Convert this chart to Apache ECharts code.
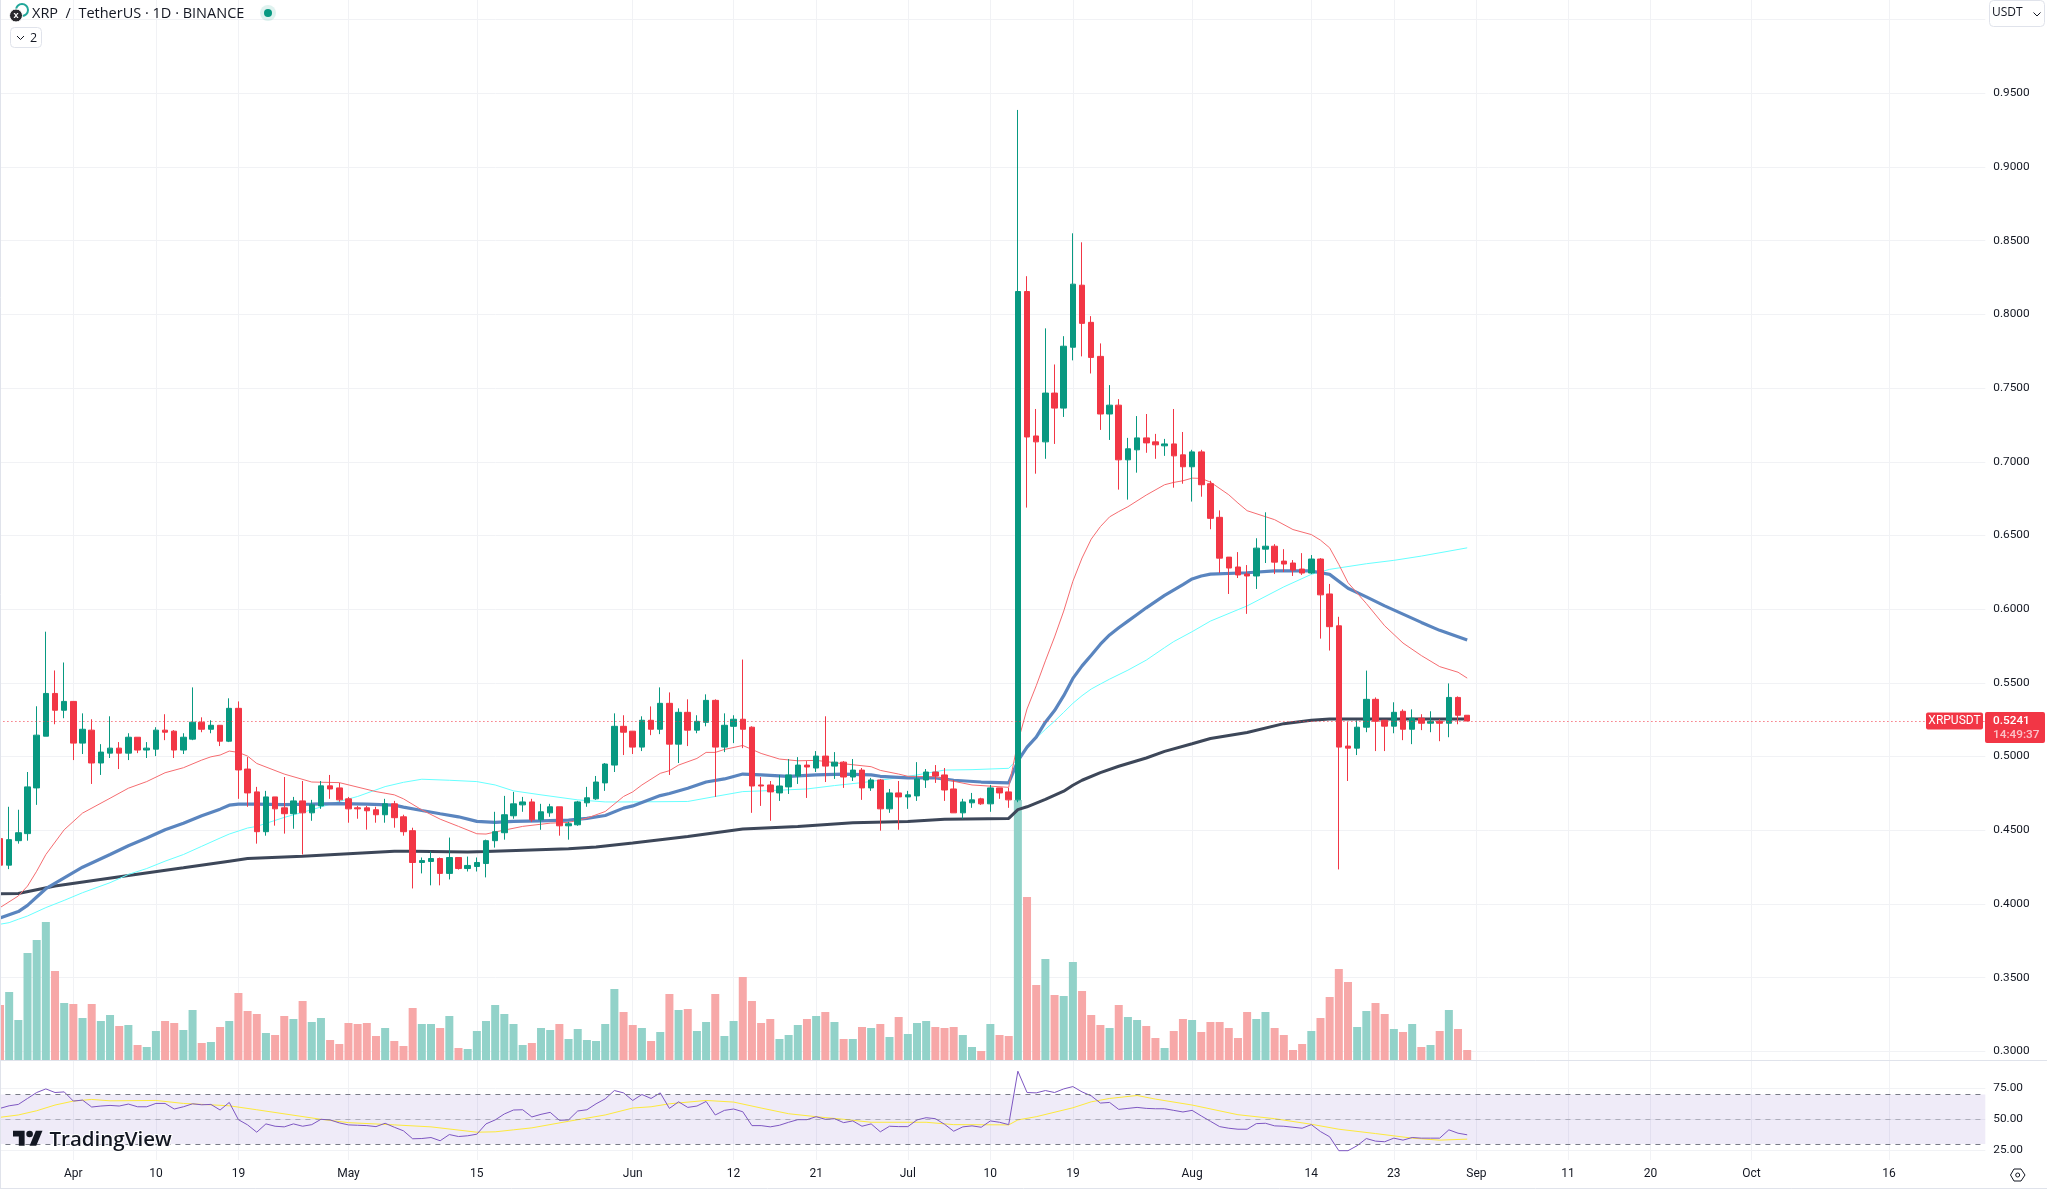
<!DOCTYPE html>
<html><head><meta charset="utf-8">
<style>html,body{margin:0;padding:0;background:#fff}#c{width:2047px;height:1189px}</style>
<script src="https://cdn.jsdelivr.net/npm/echarts@6/dist/echarts.min.js"></script>
</head><body><div id="c"></div>
<script>
const startDate = "2023-03-24";
const dayCount = 217;
const tickDates = ["04-01","04-10","04-19","05-01","05-15","06-01","06-12","06-21","07-01","07-10","07-19","08-01","08-14","08-23","09-01","09-11","09-20","10-01","10-16"];
const tickLabels = ["Apr","10","19","May","15","Jun","12","21","Jul","10","19","Aug","14","23","Sep","11","20","Oct","16"];
const opens = [.4443,.4263,.4429,.4477,.4787,.5138,.5428,.5314,
.5374,.5091,.5179,.4956,.5023,.5057,.5023,.5131,.5044,.5050,.5179,.5172,.5044,.5118,.5233,.5185,.5212,.5104,.5327,.4915,.4760,.4490,.4726,.4652,.4612,.4699,.4618,.4665,.4801,.4787,
.4713,.4652,.4652,.4639,.4605,.4679,.4591,.4497,.4281,.4288,.4308,.4207,.4315,.4240,.4254,.4274,.4429,.4483,.4598,.4672,.4692,.4571,.4618,.4659,.4530,.4537,.4686,.4713,.4821,.4942,.5205,
.5172,.5064,.5246,.5185,.5361,.5084,.5300,.5179,.5232,.5381,.5064,.5205,.5253,.5199,.4807,.4807,.4753,.4794,.4868,.4942,.4922,.5003,.4935,.4962,.4861,.4908,.4787,.4841,.4645,.4753,
.4726,.4733,.4841,.4895,.4875,.4780,.4618,.4686,.4713,.4679,.4787,.4760,.4706,.8155,.7175,.7135,.7466,.7364,.7777,.8198,.7946,.7715,.7324,.7384,.7013,.7081,.7162,.7135,.7108,.7121,.7047,
.6966,.7067,.6851,.6623,.6353,.6286,.6238,.6225,.6407,.6427,.6326,.6313,.6272,.6245,.6340,.6103,.5887,.5071,.5057,.5199,.5388,.5246,.5206,.5307,.5185,.5260,.5226,.5239,.5226,.5401,.5280];
const closes = [.4263,.4436,.4483,.4794,.5145,.5428,.5314,.5374,
.5091,.5185,.4956,.5030,.5057,.5023,.5131,.5044,.5057,.5179,.5165,.5044,.5131,.5233,.5185,.5212,.5104,.5327,.4909,.4753,.4490,.4726,.4645,.4612,.4699,.4618,.4672,.4801,.4780,.4706,
.4645,.4645,.4632,.4605,.4679,.4585,.4490,.4281,.4294,.4308,.4207,.4315,.4240,.4261,.4281,.4429,.4490,.4605,.4679,.4692,.4571,.4625,.4659,.4530,.4544,.4692,.4720,.4827,.4949,.5205,.5165,
.5064,.5246,.5185,.5361,.5084,.5300,.5179,.5239,.5381,.5064,.5212,.5253,.5185,.4800,.4800,.4760,.4800,.4875,.4942,.4929,.5003,.4935,.4962,.4861,.4908,.4787,.4841,.4645,.4753,.4726,
.4740,.4848,.4895,.4868,.4773,.4618,.4692,.4706,.4679,.4787,.4753,.4706,.8155,.7168,.7135,.7466,.7364,.7784,.8205,.7939,.7708,.7324,.7384,.7013,.7088,.7162,.7128,.7115,.7121,.7040,.6966,
.7067,.6844,.6616,.6346,.6279,.6232,.6225,.6414,.6427,.6319,.6306,.6265,.6245,.6340,.6097,.5881,.5064,.5057,.5199,.5388,.5239,.5206,.5300,.5185,.5260,.5226,.5239,.5226,.5401,.5280,.5241];
const lows = [.4256,.4236,.4409,.4429,.4672,.5138,.5219,.5260,
.4976,.5017,.4814,.4875,.4990,.4915,.4976,.5023,.4990,.5003,.5111,.4990,.5017,.5111,.5165,.5158,.5071,.5098,.4713,.4659,.4409,.4463,.4531,.4477,.4510,.4335,.4564,.4645,.4713,.4693,
.4551,.4578,.4504,.4551,.4551,.4517,.4463,.4105,.4207,.4126,.4126,.4166,.4233,.4220,.4220,.4180,.4382,.4436,.4578,.4625,.4557,.4503,.4591,.4463,.4436,.4530,.4659,.4706,.4767,.4895,.5010,
.5017,.5037,.5145,.5152,.4875,.4956,.5071,.5158,.5205,.4726,.5030,.5091,.5057,.4618,.4665,.4564,.4699,.4746,.4814,.4719,.4895,.4827,.4848,.4787,.4834,.4706,.4767,.4497,.4618,.4503,
.4645,.4699,.4787,.4821,.4699,.4618,.4578,.4652,.4672,.4625,.4713,.4652,.4690,.6689,.6919,.7020,.7121,.7304,.7688,.7715,.7599,.7216,.7148,.6811,.6743,.6926,.7061,.7020,.7040,.6824,.6851,
.6730,.6763,.6542,.6245,.6103,.6211,.5968,.6137,.6313,.6238,.6252,.6225,.6232,.6238,.5800,.5719,.4234,.4834,.5010,.5165,.5037,.5037,.5158,.5111,.5084,.5179,.5165,.5104,.5131,.5219,.5241];
const highs = [.4460,.4659,.4639,.4895,.5341,.5847,.5584,.5638,
.5374,.5293,.5253,.5084,.5273,.5098,.5158,.5131,.5098,.5199,.5287,.5179,.5158,.5469,.5266,.5246,.5212,.5395,.5374,.4996,.4794,.4767,.4726,.4861,.4726,.4834,.4706,.4834,.4875,.4821,
.4726,.4665,.4665,.4659,.4713,.4699,.4605,.4517,.4315,.4355,.4315,.4450,.4315,.4321,.4315,.4436,.4625,.4733,.4760,.4726,.4713,.4679,.4679,.4659,.4557,.4699,.4794,.4868,.4956,.5293,.5280,
.5172,.5273,.5340,.5469,.5435,.5327,.5388,.5280,.5422,.5388,.5293,.5280,.5658,.5205,.4861,.4834,.4875,.4983,.4996,.4969,.5037,.5273,.5030,.4969,.4983,.4922,.4855,.4848,.4780,.4834,
.4767,.4962,.4915,.4942,.4922,.4841,.4713,.4753,.4720,.4807,.4787,.4787,.9387,.8259,.7358,.7905,.7660,.7852,.8550,.8489,.7988,.7803,.7520,.7425,.7162,.7310,.7324,.7189,.7155,.7358,.7202,
.7081,.7081,.6871,.6670,.6353,.6387,.6299,.6481,.6657,.6441,.6407,.6333,.6380,.6367,.6346,.6171,.5948,.5233,.5246,.5583,.5401,.5246,.5368,.5320,.5320,.5287,.5307,.5253,.5496,.5408,.5280];
const volumes = [165,204,120,321,360,414,267,171,
168,126,168,117,135,102,105,45,39,87,117,111,90,150,51,54,99,117,201,147,138,81,75,132,123,177,114,126,60,48,
111,108,111,72,96,57,42,156,108,108,96,132,36,33,87,117,165,138,108,45,51,96,90,108,63,93,60,57,108,213,144,
105,96,57,84,198,150,153,87,114,198,72,117,249,177,111,123,63,75,105,123,132,144,114,63,63,99,96,108,69,129,
78,111,117,99,96,99,75,39,27,108,75,72,780,489,225,303,195,192,294,207,135,105,96,165,129,120,102,66,36,87,123,
120,84,114,114,96,66,144,123,144,96,75,30,48,87,126,189,273,234,99,147,171,138,93,84,108,39,45,87,150,93,30];
const rsi = [58.8,60.9,62.0,66.8,71.6,74.5,71.6,72.1,
64.7,65.5,59.9,60.7,61.2,60.7,62.3,60.1,60.1,62.8,62.8,58.3,60.1,62.5,61.7,62.0,57.5,63.6,49.7,45.5,39.6,46.3,44.4,43.9,46.3,44.4,45.7,50.0,49.5,47.1,
45.5,45.2,44.9,44.1,46.8,43.6,40.7,34.3,34.5,35.3,32.7,37.7,36.1,36.7,38.0,46.3,49.5,54.3,57.5,57.7,51.9,54.0,55.6,49.2,49.5,56.7,57.7,62.5,66.5,73.2,71.3,
65.2,70.0,66.8,71.3,58.8,64.1,59.6,60.7,64.4,53.5,57.2,58.3,56.1,44.9,44.9,43.9,45.2,47.6,49.7,49.7,52.1,50.0,50.5,47.3,48.7,44.4,46.3,39.9,44.4,44.1,
44.1,49.5,51.3,50.5,46.0,40.4,43.9,44.7,43.6,48.7,47.6,45.7,88.8,71.6,71.3,73.2,71.6,74.5,76.4,72.1,68.9,63.1,63.6,58.0,58.8,59.6,58.8,58.5,58.5,57.2,55.9,
57.2,52.7,48.4,44.1,42.8,42.0,42.0,46.5,46.8,44.7,44.4,43.6,42.8,45.7,40.1,35.9,24.7,24.7,28.7,34.5,32.4,31.9,34.8,33.2,35.3,34.8,34.8,34.8,41.5,38.8,37.5];
const rsiSignal = [["03-24",51.6],["03-26",53.5],["03-28",56.9],["03-30",61.5],["04-01",64.7],["04-03",66.0],["04-05",64.9],["04-10",65.2],["04-13",62.8],["04-18",60.9],["04-21",57.7],["04-28",50.0],["05-01",47.3],["05-06",45.5],["05-10",43.9],["05-15",39.6],["05-17",39.9],["05-19",41.5],["05-21",43.1],["05-25",48.4],["05-29",53.5],["06-01",59.1],["06-03",60.1],["06-05",62.5],["06-09",65.2],["06-12",63.9],["06-15",59.1],["06-18",54.5],["06-21",52.1],["06-24",50.0],["06-27",47.6],["07-03",47.6],["07-06",45.7],["07-12",45.5],["07-13",49.5],["07-15",52.1],["07-19",59.3],["07-21",64.1],["07-23",66.8],["07-26",69.2],["07-28",66.3],["08-01",61.5],["08-06",53.7],["08-10",50.5],["08-14",46.0],["08-17",42.0],["08-21",38.5],["08-25",34.8],["08-28",33.2],["08-31",34.0]];
const maRed = [["03-24",.3975],["03-26",.4054],["03-27",.4121],["03-28",.4222],["03-29",.4335],["03-31",.4503],["04-02",.4616],["04-05",.4717],["04-07",.4785],["04-09",.4830],["04-11",.4890],["04-13",.4924],["04-15",.4976],["04-16",.4998],["04-17",.5010],["04-18",.5037],["04-19",.5028],["04-20",.5003],["04-21",.4953],["04-24",.4881],["04-27",.4827],["04-30",.4823],["05-04",.4762],["05-06",.4740],["05-07",.4713],["05-09",.4638],["05-11",.4575],["05-13",.4526],["05-15",.4476],["05-16",.4474],["05-17",.4488],["05-20",.4526],["05-23",.4548],["05-25",.4553],["05-27",.4582],["05-29",.4627],["05-31",.4729],["06-01",.4760],["06-02",.4807],["06-04",.4886],["06-05",.4904],["06-06",.4942],["06-08",.4987],["06-09",.5028],["06-10",.5028],["06-11",.5048],["06-13",.5075],["06-15",.5021],["06-17",.4983],["06-19",.4971],["06-21",.4974],["06-24",.4951],["06-27",.4931],["06-28",.4906],["06-30",.4881],["07-01",.4866],["07-04",.4863],["07-06",.4832],["07-08",.4807],["07-12",.4791],["07-13",.5098],["07-14",.5323],["07-15",.5480],["07-16",.5649],["07-17",.5811],["07-18",.5987],["07-19",.6189],["07-20",.6347],["07-21",.6475],["07-22",.6560],["07-23",.6626],["07-24",.6662],["07-25",.6695],["07-27",.6774],["07-29",.6844],["07-30",.6860],["07-31",.6871],["08-01",.6889],["08-02",.6887],["08-03",.6862],["08-05",.6776],["08-06",.6720],["08-07",.6668],["08-10",.6607],["08-12",.6540],["08-14",.6506],["08-15",.6468],["08-16",.6416],["08-17",.6303],["08-18",.6180],["08-20",.6038],["08-22",.5887],["08-24",.5770],["08-26",.5685],["08-28",.5610],["08-30",.5572],["08-31",.5532]];
const maBlue = [["03-24",.3905],["03-26",.3948],["03-27",.3990],["03-28",.4047],["03-29",.4103],["03-31",.4177],["04-02",.4249],["04-05",.4335],["04-07",.4395],["04-09",.4447],["04-11",.4503],["04-13",.4548],["04-15",.4598],["04-17",.4643],["04-18",.4670],["04-19",.4677],["04-21",.4677],["04-24",.4674],["04-27",.4677],["04-30",.4681],["05-03",.4677],["05-06",.4670],["05-07",.4657],["05-09",.4634],["05-11",.4612],["05-13",.4591],["05-15",.4560],["05-17",.4553],["05-19",.4560],["05-22",.4564],["05-25",.4569],["05-27",.4580],["05-29",.4600],["05-31",.4650],["06-01",.4665],["06-04",.4735],["06-05",.4749],["06-07",.4785],["06-09",.4827],["06-11",.4848],["06-13",.4881],["06-15",.4875],["06-18",.4866],["06-21",.4875],["06-24",.4881],["06-27",.4875],["06-28",.4866],["07-01",.4855],["07-04",.4855],["07-06",.4839],["07-09",.4827],["07-12",.4821],["07-13",.4970],["07-14",.5064],["07-15",.5132],["07-16",.5233],["07-17",.5312],["07-18",.5413],["07-19",.5530],["07-20",.5615],["07-21",.5687],["07-22",.5762],["07-23",.5825],["07-24",.5874],["07-25",.5919],["07-26",.5964],["07-27",.6009],["07-29",.6093],["07-31",.6167],["08-01",.6205],["08-02",.6225],["08-03",.6238],["08-07",.6247],["08-10",.6259],["08-14",.6259],["08-16",.6236],["08-18",.6142],["08-20",.6083],["08-22",.6022],["08-24",.5966],["08-26",.5910],["08-28",.5856],["08-31",.5790]];
const maCyan = [["03-24",.3862],["03-25",.3873],["03-26",.3896],["03-27",.3918],["03-29",.3975],["03-31",.4024],["04-02",.4076],["04-05",.4144],["04-07",.4200],["04-09",.4240],["04-11",.4290],["04-13",.4335],["04-15",.4391],["04-17",.4447],["04-18",.4474],["04-20",.4515],["04-21",.4526],["04-24",.4587],["04-27",.4639],["04-30",.4695],["05-02",.4729],["05-05",.4796],["05-07",.4825],["05-09",.4846],["05-12",.4839],["05-15",.4830],["05-17",.4807],["05-19",.4767],["05-22",.4740],["05-26",.4706],["05-29",.4692],["06-01",.4692],["06-07",.4695],["06-10",.4729],["06-13",.4762],["06-16",.4769],["06-20",.4780],["06-23",.4803],["06-26",.4823],["06-29",.4848],["07-02",.4875],["07-05",.4908],["07-08",.4911],["07-12",.4920],["07-13",.4985],["07-14",.5057],["07-15",.5125],["07-16",.5184],["07-17",.5240],["07-18",.5300],["07-19",.5361],["07-20",.5413],["07-21",.5458],["07-22",.5492],["07-23",.5525],["07-25",.5586],["07-27",.5654],["07-29",.5739],["07-30",.5780],["08-01",.5847],["08-03",.5919],["08-07",.6022],["08-11",.6151],["08-14",.6236],["08-16",.6270],["08-20",.6308],["08-23",.6331],["08-26",.6360],["08-31",.6416]];
const maDark = [["03-24",.4069],["03-26",.4071],["03-30",.4121],["04-07",.4193],["04-13",.4245],["04-18",.4290],["04-20",.4308],["04-26",.4324],["05-01",.4341],["05-06",.4357],["05-08",.4357],["05-14",.4353],["05-16",.4355],["05-25",.4375],["05-28",.4386],["06-01",.4413],["06-07",.4458],["06-13",.4508],["06-19",.4526],["06-25",.4551],["07-01",.4560],["07-05",.4575],["07-12",.4580],["07-13",.4640],["07-14",.4659],["07-16",.4709],["07-18",.4765],["07-19",.4805],["07-20",.4839],["07-22",.4891],["07-24",.4934],["07-27",.4990],["07-29",.5035],["08-01",.5087],["08-03",.5122],["08-07",.5163],["08-11",.5223],["08-14",.5246],["08-16",.5255],["08-31",.5255]];
const lastPrice = 0.5241;
const countdown = "14:49:37";
const symbolName = "XRPUSDT";
const titleText = "XRP  /  TetherUS · 1D · BINANCE";

const GREEN = '#089981', RED = '#f23645', GRID = '#f1f2f5', TEXT = '#131722';
const AXIS_FONT = 'Roboto';
const categories = [];
{ const d = new Date(startDate + 'T00:00:00Z');
  for (let i = 0; i < dayCount; i++) { categories.push(d.toISOString().slice(5, 10)); d.setUTCDate(d.getUTCDate() + 1); } }

const candleData = opens.map((o, i) => [o, closes[i], lows[i], highs[i]]);
const volumeData = volumes.map((v, i) => ({ value: v, itemStyle: { color: closes[i] >= opens[i] ? '#92d2c9' : '#f7a8a8' } }));

const band = 9.17, gridLeft = -band / 2, gridWidth = band * dayCount;
const isTick = (i, v) => tickDates.indexOf(v) >= 0;
const hiddenX = (g) => ({ type: 'category', gridIndex: g, data: categories, show: false, boundaryGap: true });
const maLine = (data, color, width) => ({ type: 'line', xAxisIndex: 0, yAxisIndex: 0, data, showSymbol: false, symbol: 'none', smooth: false, lineStyle: { color, width, opacity: 1 }, z: 3, silent: true, animation: false });

const option = {
  animation: false, backgroundColor: '#fff',
  grid: [
    { left: gridLeft, width: gridWidth, top: 19.6, height: 1031.7, outerBoundsMode: 'none' },
    { left: gridLeft, width: gridWidth, top: 0, height: 1060, outerBoundsMode: 'none' },
    { left: gridLeft, width: gridWidth, top: 1088.3, height: 62, outerBoundsMode: 'none' },
    { left: gridLeft, width: gridWidth, top: 1060, height: 100, outerBoundsMode: 'none' }
  ],
  xAxis: [
    hiddenX(0),
    { type: 'category', gridIndex: 1, data: categories, axisLine: { show: false }, axisTick: { show: false }, axisLabel: { show: false },
      splitLine: { show: true, interval: isTick, alignWithLabel: true, lineStyle: { color: GRID, width: 1 } } },
    hiddenX(2),
    { type: 'category', gridIndex: 3, data: categories, position: 'bottom', axisLine: { show: false }, axisTick: { show: false },
      splitLine: { show: true, interval: isTick, alignWithLabel: true, lineStyle: { color: GRID, width: 1 } },
      axisLabel: { show: true, interval: isTick, margin: 8, hideOverlap: false, color: TEXT, fontFamily: AXIS_FONT, fontSize: 12,
        formatter: (v) => tickLabels[tickDates.indexOf(v)] } }
  ],
  yAxis: [
    { type: 'value', gridIndex: 0, position: 'right', min: 0.3, max: 1.0, interval: 0.05, axisLine: { show: false }, axisTick: { show: false },
      splitLine: { show: true, lineStyle: { color: GRID, width: 1 } },
      axisLabel: { margin: 8, padding: [2, 0, 0, 0], color: TEXT, fontFamily: AXIS_FONT, fontSize: 11.8, formatter: (v) => v.toFixed(4) } },
    { type: 'value', gridIndex: 1, show: false, min: 0, max: 3180, splitLine: { show: false } },
    { type: 'value', gridIndex: 2, position: 'right', min: 25, max: 75, interval: 25, axisLine: { show: false }, axisTick: { show: false },
      splitLine: { show: true, lineStyle: { color: GRID, width: 1 } },
      axisLabel: { margin: 8, padding: [2, 0, 0, 0], color: TEXT, fontFamily: AXIS_FONT, fontSize: 11.8, formatter: (v) => v.toFixed(2) } },
    { type: 'value', gridIndex: 3, show: false, min: 0, max: 1, splitLine: { show: false } }
  ],
  series: [
    { type: 'bar', name: 'Volume', xAxisIndex: 1, yAxisIndex: 1, data: volumeData, barWidth: 8, z: 1, silent: true },
    maLine(maDark, '#3d4759', 3),
    maLine(maCyan, '#66ffff', 1),
    maLine(maBlue, '#5a85bf', 3.2),
    maLine(maRed, '#f56c70', 1),
    { type: 'candlestick', name: 'XRPUSDT', xAxisIndex: 0, yAxisIndex: 0, data: candleData, barWidth: 6, z: 4, silent: true,
      itemStyle: { color: GREEN, color0: RED, borderColor: GREEN, borderColor0: RED, borderWidth: 1 } },
    { type: 'line', name: 'Last price', xAxisIndex: 0, yAxisIndex: 0, data: [], z: 5, silent: true, showSymbol: false,
      markLine: { silent: true, symbol: 'none', precision: 4, animation: false, label: { show: false },
        lineStyle: { color: RED, width: 1, type: [1, 3] }, data: [{ yAxis: lastPrice }] } },
    { type: 'line', name: 'RSI', xAxisIndex: 2, yAxisIndex: 2, data: rsi, showSymbol: false, symbol: 'none', clip: false, z: 4, silent: true,
      lineStyle: { color: '#7e57c2', width: 1 },
      markArea: { silent: true, itemStyle: { color: 'rgba(126,87,194,0.12)' }, data: [[{ yAxis: 70 }, { yAxis: 30 }]] },
      markLine: { silent: true, symbol: 'none', animation: false, label: { show: false }, data: [
        { yAxis: 70, lineStyle: { color: '#787b86', width: 1, type: [5, 5] } },
        { yAxis: 50, lineStyle: { color: 'rgba(120,123,134,0.5)', width: 1, type: [5, 5] } },
        { yAxis: 30, lineStyle: { color: '#787b86', width: 1, type: [5, 5] } } ] } },
    { type: 'line', name: 'RSI MA', xAxisIndex: 2, yAxisIndex: 2, data: rsiSignal, showSymbol: false, symbol: 'none', clip: false, z: 3, silent: true,
      lineStyle: { color: '#fde93c', width: 1 } }
  ]
};

const chart = echarts.init(document.getElementById('c'), null, { renderer: 'canvas', width: 2047, height: 1189 });
chart.setOption(option);

const ly = chart.convertToPixel({ yAxisIndex: 0 }, lastPrice);
const txt = (x, y, text, font, fill, align, extra) => ({ type: 'text', z: 50, silent: true, x, y, style: Object.assign({ text, font, fill, align: align || 'left', verticalAlign: 'middle' }, extra || {}) });
const line = (x1, y1, x2, y2, color) => ({ type: 'line', z: 49, silent: true, shape: { x1, y1, x2, y2 }, style: { stroke: color, lineWidth: 1 } });
const chevron = (x, y) => ({ type: 'polyline', z: 50, silent: true, shape: { points: [[x - 3.5, y - 1.5], [x, y + 2], [x + 3.5, y - 1.5]] }, style: { stroke: TEXT, lineWidth: 1, fill: 'none' } });
const logoX = 13, logoY = 1127.4, logoS = 0.83;
const logoPts = (pts) => pts.map((p) => [logoX + p[0] * logoS, logoY + p[1] * logoS]);
chart.setOption({ graphic: [
  line(0.5, 0, 0.5, 1189, '#e0e3eb'),
  line(0, 1060.5, 2047, 1060.5, '#e0e3eb'),
  line(0, 1188.5, 2047, 1188.5, '#e0e3eb'),
  /* header */
  { type: 'circle', z: 50, silent: true, shape: { cx: 22, cy: 10, r: 6 }, style: { fill: '#fff', stroke: '#22a79a', lineWidth: 2 } },
  { type: 'circle', z: 51, silent: true, shape: { cx: 16, cy: 15.5, r: 6.5 }, style: { fill: '#2a2a2e', stroke: '#fff', lineWidth: 1 } },
  Object.assign(txt(16, 15.5, 'X', 'bold 8px Roboto', '#fff', 'center'), { z: 52 }),
  txt(32, 14, titleText, '14.5px "Open Sans"', TEXT),
  { type: 'circle', z: 50, silent: true, shape: { cx: 268, cy: 13, r: 8 }, style: { fill: 'rgba(8,153,129,0.13)' } },
  { type: 'circle', z: 51, silent: true, shape: { cx: 268, cy: 13, r: 4 }, style: { fill: GREEN } },
  { type: 'rect', z: 50, silent: true, shape: { x: 10.5, y: 27.5, width: 31, height: 20, r: 4 }, style: { fill: '#fff', stroke: '#e0e3eb', lineWidth: 1 } },
  Object.assign(chevron(20.5, 37.5), { z: 51 }),
  Object.assign(txt(30, 38, '2', '12.5px "Open Sans"', TEXT), { z: 51 }),
  /* currency box */
  { type: 'rect', z: 50, silent: true, shape: { x: 1989.5, y: 0.5, width: 55, height: 26, r: 4 }, style: { fill: '#fff', stroke: '#e0e3eb', lineWidth: 1 } },
  Object.assign(txt(1992, 13, 'USDT', '12px "Open Sans"', TEXT), { z: 51 }),
  Object.assign(chevron(2037, 14), { z: 51 }),
  /* last price labels */
  { type: 'rect', z: 50, silent: true, shape: { x: 1926, y: ly - 8.5, width: 57, height: 17, r: 2 }, style: { fill: RED } },
  Object.assign(txt(1954.5, ly, symbolName, '12px Roboto', '#fff', 'center'), { z: 51 }),
  { type: 'rect', z: 50, silent: true, shape: { x: 1985, y: ly - 9, width: 60, height: 31, r: 2 }, style: { fill: RED } },
  Object.assign(txt(1993, ly, lastPrice.toFixed(4), '500 11.8px Roboto', '#fff'), { z: 51 }),
  Object.assign(txt(1993, ly + 14.5, countdown, '500 11.8px Roboto', '#fbc3c8'), { z: 51 }),
  /* watermark */
  { type: 'polygon', z: 45, silent: true, shape: { points: logoPts([[14, 22], [7, 22], [7, 11], [0, 11], [0, 4], [14, 4]]) }, style: { fill: TEXT } },
  { type: 'polygon', z: 45, silent: true, shape: { points: logoPts([[28, 22], [20, 22], [27.5, 4], [35.5, 4]]) }, style: { fill: TEXT } },
  { type: 'circle', z: 45, silent: true, shape: { cx: logoX + 20 * logoS, cy: logoY + 8 * logoS, r: 4 * logoS }, style: { fill: TEXT } },
  Object.assign(txt(49.5, 1140, 'TradingView', '600 20.5px "Open Sans"', TEXT, 'left', { stroke: '#fff', lineWidth: 2 }), { z: 45 }),
  /* settings icon */
  { type: 'polygon', z: 50, silent: true, shape: { points: [[2010.5, 1175], [2014, 1169], [2021, 1169], [2025, 1175], [2021, 1181], [2014, 1181]] }, style: { fill: 'none', stroke: TEXT, lineWidth: 1 } },
  { type: 'circle', z: 50, silent: true, shape: { cx: 2017.7, cy: 1175, r: 2 }, style: { fill: 'none', stroke: TEXT, lineWidth: 1 } }
] });
</script></body></html>
